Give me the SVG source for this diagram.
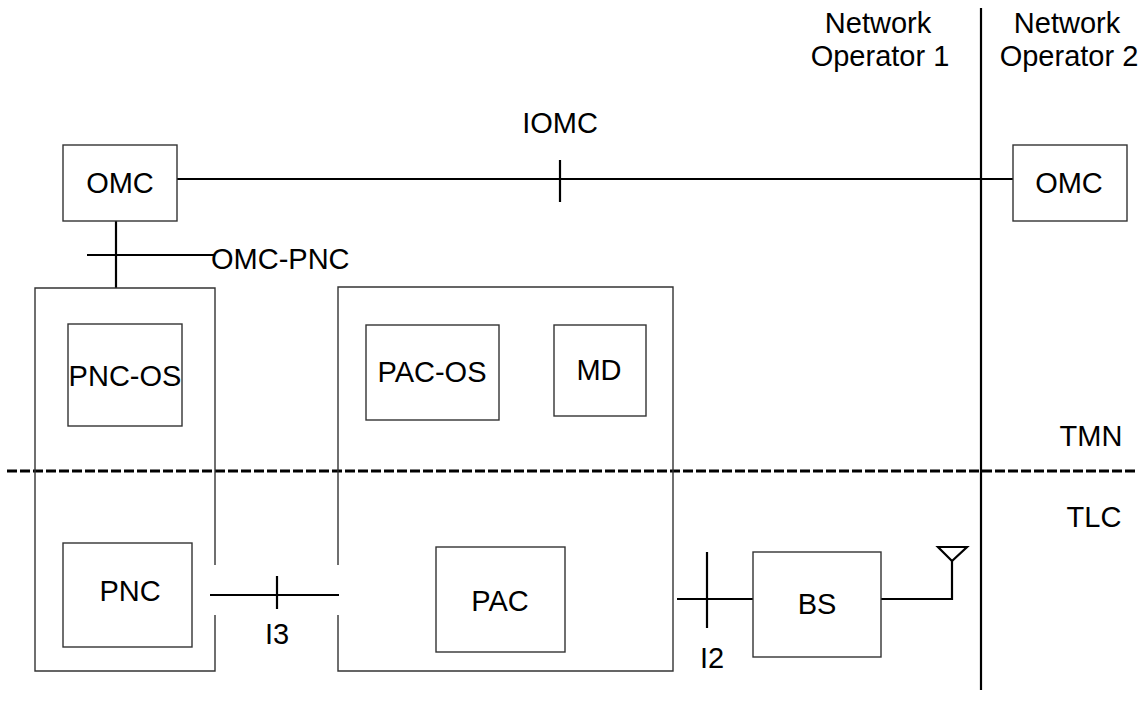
<svg xmlns="http://www.w3.org/2000/svg" width="1140" height="717" viewBox="0 0 1140 717">
<style>
.box{fill:none;stroke:#333;stroke-width:1.4}
.ln{fill:none;stroke:#000;stroke-width:2.2}
.t{font-family:"Liberation Sans",Arial,sans-serif;font-size:29px;fill:#000;text-anchor:middle}
</style>
<rect width="1140" height="717" fill="#fff"/>
<g id="connectors">
<line class="ln" x1="177" y1="179" x2="1013" y2="179"/>
<line class="ln" x1="560" y1="160" x2="560" y2="202"/>
<line class="ln" x1="116" y1="221" x2="116" y2="288"/>
<line class="ln" x1="87" y1="255" x2="214" y2="255"/>
<line class="ln" x1="210" y1="595" x2="339" y2="595"/>
<line class="ln" x1="277" y1="576" x2="277" y2="609"/>
<line class="ln" x1="677" y1="599" x2="753" y2="599"/>
<line class="ln" x1="707" y1="552" x2="707" y2="628"/>
<polyline class="ln" points="881,599 952,599 952,561"/>
<polygon class="ln" points="938,547 967,547 952,561"/>
<line class="ln" x1="981" y1="8" x2="981" y2="690"/>
<line x1="7" y1="471" x2="1136" y2="471" stroke="#000" stroke-width="3" stroke-dasharray="10 3"/>
</g>
<g id="omc1"><rect class="box" x="63" y="145" width="114" height="76"/><text class="t" x="120" y="193">OMC</text></g>
<g id="omc2"><rect class="box" x="1013" y="145" width="114" height="76"/><text class="t" x="1069" y="193">OMC</text></g>
<g id="pnc-outer"><path class="box" d="M215,565 V288 H35 V671 H215 V615"/></g>
<g id="pac-outer"><path class="box" d="M338,565 V287 H673 V671 H338 V615"/></g>
<g id="pnc-os"><rect class="box" x="68" y="324" width="114" height="102"/><text class="t" x="125" y="386">PNC-OS</text></g>
<g id="pnc"><rect class="box" x="63" y="543" width="129" height="104"/><text class="t" x="130" y="601">PNC</text></g>
<g id="pac-os"><rect class="box" x="366" y="325" width="133" height="95"/><text class="t" x="432" y="382">PAC-OS</text></g>
<g id="md"><rect class="box" x="554" y="325" width="92" height="91"/><text class="t" x="599" y="380">MD</text></g>
<g id="pac"><rect class="box" x="436" y="547" width="129" height="105"/><text class="t" x="500" y="611">PAC</text></g>
<g id="bs"><rect class="box" x="753" y="552" width="128" height="105"/><text class="t" x="817" y="614">BS</text></g>
<g id="labels">
<text class="t" x="560" y="133">IOMC</text>
<text class="t" x="211" y="269" style="text-anchor:start">OMC-PNC</text>
<text class="t" x="277" y="644">I3</text>
<text class="t" x="712" y="668">I2</text>
<text class="t" x="1091" y="446">TMN</text>
<text class="t" x="1094" y="527">TLC</text>
<text class="t"><tspan x="878" y="33">Network</tspan><tspan x="880" y="66">Operator 1</tspan></text>
<text class="t"><tspan x="1067" y="33">Network</tspan><tspan x="1069" y="66">Operator 2</tspan></text>
</g>
</svg>
